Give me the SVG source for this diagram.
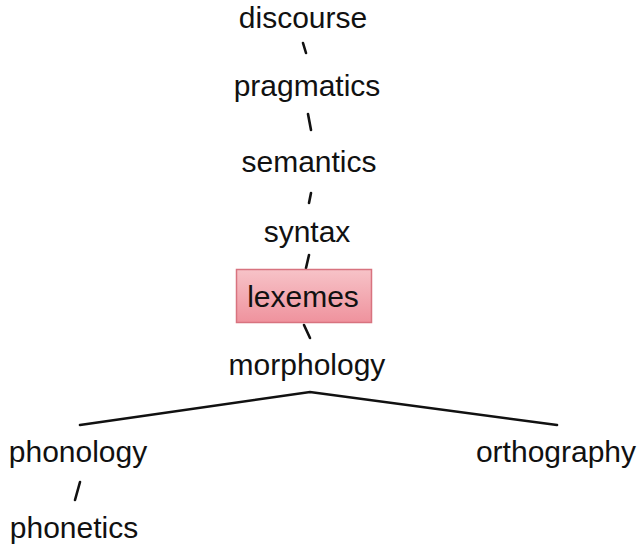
<svg xmlns="http://www.w3.org/2000/svg" width="642" height="547" viewBox="0 0 642 547">
  <defs>
    <linearGradient id="lexFill" x1="0" y1="0" x2="0" y2="1">
      <stop offset="0" stop-color="#f7c3c8"/>
      <stop offset="1" stop-color="#ef929d"/>
    </linearGradient>
    <style>
      .lbl { font-family: "Liberation Sans", Arial, sans-serif; font-size: 30px; fill: #111; text-anchor: middle; }
      .link { stroke: #111; stroke-width: 2.6; fill: none; stroke-linecap: round; }
    </style>
  </defs>
  <rect x="0" y="0" width="642" height="547" fill="#ffffff"/>

  <!-- connectors -->
  <g id="connectors">
    <line class="link" x1="303" y1="43" x2="306" y2="53"/>
    <line class="link" x1="308" y1="114" x2="311" y2="130"/>
    <line class="link" x1="311" y1="193" x2="309" y2="203"/>
    <line class="link" x1="309" y1="255" x2="306" y2="268"/>
    <line class="link" x1="304" y1="325" x2="310" y2="338"/>
    <polyline class="link" points="80,425 310,392 557,425"/>
    <line class="link" x1="80" y1="482" x2="75" y2="500"/>
  </g>

  <g id="discourse"><text class="lbl" x="303" y="28">discourse</text></g>
  <g id="pragmatics"><text class="lbl" x="307" y="96">pragmatics</text></g>
  <g id="semantics"><text class="lbl" x="309" y="172">semantics</text></g>
  <g id="syntax"><text class="lbl" x="307" y="242">syntax</text></g>
  <g id="lexemes">
    <rect x="236.5" y="269.5" width="135" height="53" fill="url(#lexFill)" stroke="#d8737f" stroke-width="1.5"/>
    <text class="lbl" x="303" y="307">lexemes</text>
  </g>
  <g id="morphology"><text class="lbl" x="307" y="375">morphology</text></g>
  <g id="phonology"><text class="lbl" x="78" y="462">phonology</text></g>
  <g id="phonetics"><text class="lbl" x="74" y="538">phonetics</text></g>
  <g id="orthography"><text class="lbl" x="556" y="462">orthography</text></g>
</svg>
